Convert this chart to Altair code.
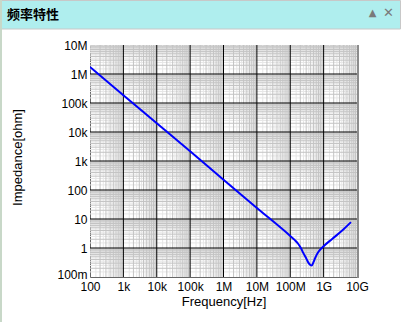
import altair as alt
import pandas as pd

# ---- data ----
freq_hz = [100, 1e3, 1e4, 1e5, 1e6, 1e7, 1e8, 1.35e8, 1.72e8, 2.1e8, 2.45e8,
           2.95e8, 3.45e8, 4.0e8, 4.4e8, 5.0e8, 5.6e8, 7e8, 1e9, 1.8e9, 3.6e9, 6.6e9]
impedance_ohm = [1.75e6, 1.85e5, 2.0e4, 2.15e3, 225, 24, 2.6, 1.9, 1.4, 0.98, 0.68,
                 0.46, 0.32, 0.26, 0.25, 0.33, 0.46, 0.74, 1.15, 2.05, 4.0, 7.8]

x_decades = [1e2, 1e3, 1e4, 1e5, 1e6, 1e7, 1e8, 1e9, 1e10]
y_decades = [1e-1, 1, 1e1, 1e2, 1e3, 1e4, 1e5, 1e6, 1e7]
minor_mults = [2, 3, 4, 5, 6, 7, 8, 9]
fine_mults = [1.5, 2.5, 3.5, 4.5, 5.5, 6.5, 7.5, 8.5, 9.5]

header_title = "频率特性"
x_title = "Frequency[Hz]"
y_title = "Impedance[ohm]"

W, H = 267, 232
PAD = {"left": 90, "top": 45, "right": 45, "bottom": 45}

curve = pd.DataFrame({"f": freq_hz, "z": impedance_ohm})
major_x = pd.DataFrame({"f": x_decades[1:-1]})
major_y = pd.DataFrame({"z": y_decades[1:-1]})
minor_x = pd.DataFrame({"f": [d * m for d in x_decades[:-1] for m in minor_mults]})
fine_x = pd.DataFrame({"f": [d * m for d in x_decades[:-1] for m in fine_mults]})
minor_y = pd.DataFrame({"z": [d * m for d in y_decades[:-1] for m in minor_mults]})
fine_y = pd.DataFrame({"z": [d * m for d in y_decades[:-1] for m in fine_mults]})

xscale = alt.Scale(type="log", domain=[x_decades[0], x_decades[-1]], nice=False)
yscale = alt.Scale(type="log", domain=[y_decades[0], y_decades[-1]], nice=False)

FONT = "Liberation Sans"

x_axis = alt.Axis(values=x_decades, format="~s", title=x_title, grid=False,
                  ticks=False, domain=False, labelFont=FONT, labelFontSize=12,
                  labelColor="#000", labelPadding=4, labelFlush=False,
                  labelOverlap=False, titleFont=FONT, titleFontSize=13,
                  titleFontWeight="normal", titleColor="#000", titlePadding=3)
y_axis = alt.Axis(values=y_decades, format="~s", title=y_title, grid=False,
                  ticks=False, domain=False, labelFont=FONT, labelFontSize=12,
                  labelColor="#000", labelPadding=3, labelFlush=False,
                  labelOverlap=False, labelBaseline="middle",
                  labelOffset={"condition": {"test": "datum.value < 0.5", "value": -3},
                               "value": 0},
                  titleFont=FONT, titleFontSize=13, titleFontWeight="normal",
                  titleColor="#000", titleX=-72.5, titleY=112,
                  titleAlign="center", titleBaseline="middle")

X = alt.X("f:Q", scale=xscale, axis=x_axis)
Y = alt.Y("z:Q", scale=yscale, axis=y_axis)

fine_vx = alt.Chart(fine_x).mark_rule(color="#e6e6e6", strokeWidth=1).encode(x=X)
fine_hy = alt.Chart(fine_y).mark_rule(color="#e6e6e6", strokeWidth=1).encode(y=Y)
minor_vx = alt.Chart(minor_x).mark_rule(color="#c4c4c4", strokeWidth=1).encode(x=X)
minor_hy = alt.Chart(minor_y).mark_rule(color="#c4c4c4", strokeWidth=1).encode(y=Y)
major_vx = alt.Chart(major_x).mark_rule(color="#000000", strokeWidth=1).encode(x=X)
major_hy = alt.Chart(major_y).mark_rule(color="#000000", strokeWidth=1).encode(y=Y)

line = alt.Chart(curve).mark_line(color="#0000ff", strokeWidth=2,
                                  interpolate="monotone", clip=True).encode(x=X, y=Y)

one = pd.DataFrame({"t": [header_title]})
header_bg = alt.Chart(one).mark_rect(color="#afeeee", stroke="#c8c8c8",
                                     strokeWidth=1).encode(
    x=alt.value(-89.5), x2=alt.value(310.5), y=alt.value(-44.5), y2=alt.value(-16))
header_txt = alt.Chart(one).mark_text(align="left", baseline="middle",
                                      font="Noto Sans CJK SC", fontSize=13,
                                      fontWeight="bold", color="#000").encode(
    x=alt.value(-83), y=alt.value(-30), text="t:N")
icon_up = alt.Chart(one).mark_text(baseline="middle", font="DejaVu Sans",
                                   fontSize=10, color="#7a7a7a", text="▲").encode(
    x=alt.value(282.5), y=alt.value(-32.5))
icon_x = alt.Chart(one).mark_text(baseline="middle", font="DejaVu Sans",
                                  fontSize=13, fontWeight="bold", color="#7a7a7a",
                                  text="✕").encode(
    x=alt.value(298.5), y=alt.value(-32.5))
left_border = alt.Chart(one).mark_rule(color="#c8d8c8", strokeWidth=2).encode(
    x=alt.value(-89), y=alt.value(-45), y2=alt.value(H + 45))
shadow = alt.Chart(one).mark_rule(color="#8c8c8c", strokeWidth=2).encode(
    x=alt.value(W + 1), y=alt.value(0), y2=alt.value(H + 1))

chart = alt.layer(fine_vx, fine_hy, minor_vx, minor_hy, major_vx, major_hy, line,
                  shadow, header_bg, header_txt, icon_up, icon_x,
                  left_border).properties(
    width=W, height=H, padding=PAD,
    autosize=alt.AutoSizeParams(type="none"),
    background="#ffffff",
).configure_view(stroke="#666666", strokeWidth=1)

chart.save("out.html", embed_options={"renderer": "svg", "actions": False})
